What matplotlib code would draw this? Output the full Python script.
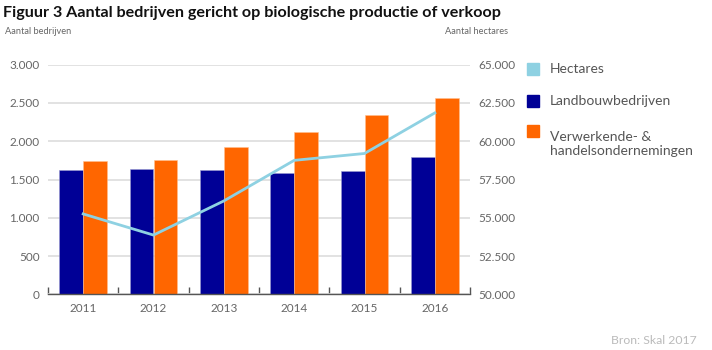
import matplotlib.pyplot as plt
import numpy as np

plt.rcParams['font.family'] = ['Lato', 'DejaVu Sans']

# data
years = ['2011', '2012', '2013', '2014', '2015', '2016']
landbouw = [1620, 1640, 1620, 1580, 1610, 1800]
verwerkend = [1740, 1750, 1920, 2120, 2340, 2560]
hectares = [55250, 53870, 56100, 58750, 59200, 61850]

blue = '#000096'
orange = '#FF6600'
lightblue = '#8ED1E2'
grey = '#666666'

fig = plt.figure(figsize=(7.12, 3.5), dpi=100)
ax = fig.add_axes([48 / 712, 1 - 294.3 / 350, 422 / 712, 229.6 / 350])

x = np.arange(len(years))
w = 0.34
ax.bar(x - w / 2, landbouw, w, color=blue, edgecolor='#9a9ad0', linewidth=0.4, zorder=2)
ax.bar(x + w / 2, verwerkend, w, color=orange, edgecolor='#ffc090', linewidth=0.4, zorder=2)

ax.set_xlim(-0.5, len(years) - 0.5)
ax.set_ylim(0, 3000)
ax.set_yticks(np.arange(0, 3001, 500))
ax.set_yticklabels([f'{v:,}'.replace(',', '.') for v in range(0, 3001, 500)])
ax.yaxis.grid(True, color='#dddddd', linewidth=1.2, zorder=0)
ax.set_axisbelow(True)
ax.tick_params(axis='y', length=0, labelsize=8.5, labelcolor=grey, pad=6)

ax.set_xticks(x)
ax.set_xticklabels(years)
ax.tick_params(axis='x', length=0, labelsize=8.5, labelcolor=grey, pad=6)
ax.set_xticks(np.arange(-0.5, len(years)), minor=True)
ax.tick_params(axis='x', which='minor', direction='in', length=5, color='#555555', width=1)

for s in ['top', 'left', 'right']:
    ax.spines[s].set_visible(False)
ax.spines['bottom'].set_color('#555555')
ax.spines['bottom'].set_linewidth(1)

ax2 = ax.twinx()
ax2.plot(x, hectares, color=lightblue, linewidth=2, zorder=3)
ax2.set_ylim(50000, 65000)
ticks2 = np.arange(50000, 65001, 2500)
ax2.set_yticks(ticks2)
ax2.set_yticklabels([f'{v:,}'.replace(',', '.') for v in ticks2])
ax2.tick_params(axis='y', length=0, labelsize=8.5, labelcolor=grey, pad=6)
for s in ['top', 'left', 'right', 'bottom']:
    ax2.spines[s].set_visible(False)

# titles
fig.text(3 / 712, 1 - 13 / 350, 'Figuur 3 Aantal bedrijven gericht op biologische productie of verkoop',
         fontsize=11.6, fontweight='bold', color='#111111', va='center', ha='left')
fig.text(5 / 712, 1 - 32 / 350, 'Aantal bedrijven', fontsize=6.7, color=grey, va='center')
fig.text(508 / 712, 1 - 32 / 350, 'Aantal hectares', fontsize=6.7, color=grey, va='center', ha='right')

# legend
items = [('Hectares', lightblue, 69), ('Landbouwbedrijven', blue, 101),
         ('Verwerkende- &\nhandelsondernemingen', orange, 131)]
for label, col, yy in items:
    fig.patches.append(plt.Rectangle((527 / 712, 1 - (yy + 6) / 350), 12 / 712, 12 / 350,
                                     transform=fig.transFigure, color=col))
    fig.text(550 / 712, 1 - yy / 350, label, fontsize=10, color='#555555', va='top' if '\n' in label else 'center',
             linespacing=1.2)

fig.text(697 / 712, 1 - 340 / 350, 'Bron: Skal 2017', fontsize=8.8, color='#bbbbbb', ha='right', va='center')

fig.savefig('out.png', dpi=100)
